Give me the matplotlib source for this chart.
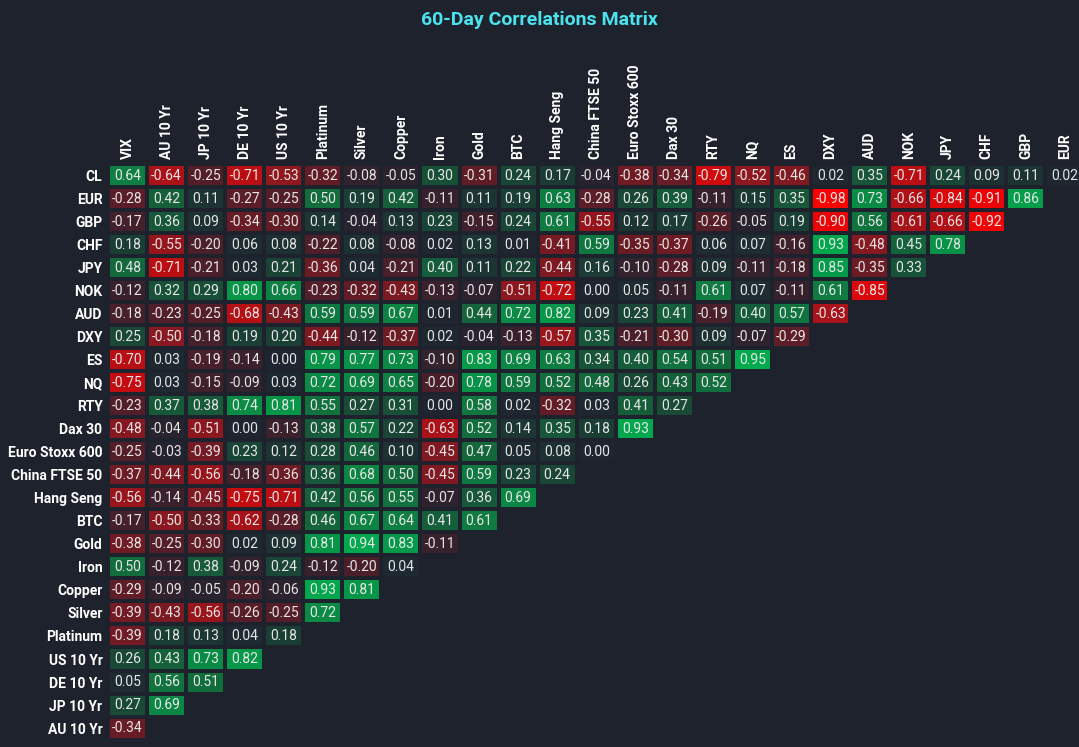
import numpy as np
import matplotlib
matplotlib.use("Agg")
import matplotlib.pyplot as plt
from matplotlib.colors import LinearSegmentedColormap

plt.rcParams['font.family'] = ['Roboto', 'DejaVu Sans']

cols = ["VIX", "AU 10 Yr", "JP 10 Yr", "DE 10 Yr", "US 10 Yr", "Platinum", "Silver", "Copper",
        "Iron", "Gold", "BTC", "Hang Seng", "China FTSE 50", "Euro Stoxx 600", "Dax 30", "RTY",
        "NQ", "ES", "DXY", "AUD", "NOK", "JPY", "CHF", "GBP", "EUR"]
rows = ["CL", "EUR", "GBP", "CHF", "JPY", "NOK", "AUD", "DXY", "ES", "NQ", "RTY", "Dax 30",
        "Euro Stoxx 600", "China FTSE 50", "Hang Seng", "BTC", "Gold", "Iron", "Copper", "Silver",
        "Platinum", "US 10 Yr", "DE 10 Yr", "JP 10 Yr", "AU 10 Yr"]

values = [
    [0.64, -0.64, -0.25, -0.71, -0.53, -0.32, -0.08, -0.05, 0.30, -0.31, 0.24, 0.17, -0.04, -0.38, -0.34, -0.79, -0.52, -0.46, 0.02, 0.35, -0.71, 0.24, 0.09, 0.11, 0.02],
    [-0.28, 0.42, 0.11, -0.27, -0.25, 0.50, 0.19, 0.42, -0.11, 0.11, 0.19, 0.63, -0.28, 0.26, 0.39, -0.11, 0.15, 0.35, -0.98, 0.73, -0.66, -0.84, -0.91, 0.86],
    [-0.17, 0.36, 0.09, -0.34, -0.30, 0.14, -0.04, 0.13, 0.23, -0.15, 0.24, 0.61, -0.55, 0.12, 0.17, -0.26, -0.05, 0.19, -0.90, 0.56, -0.61, -0.66, -0.92],
    [0.18, -0.55, -0.20, 0.06, 0.08, -0.22, 0.08, -0.08, 0.02, 0.13, 0.01, -0.41, 0.59, -0.35, -0.37, 0.06, 0.07, -0.16, 0.93, -0.48, 0.45, 0.78],
    [0.48, -0.71, -0.21, 0.03, 0.21, -0.36, 0.04, -0.21, 0.40, 0.11, 0.22, -0.44, 0.16, -0.10, -0.28, 0.09, -0.11, -0.18, 0.85, -0.35, 0.33],
    [-0.12, 0.32, 0.29, 0.80, 0.66, -0.23, -0.32, -0.43, -0.13, -0.07, -0.51, -0.72, 0.00, 0.05, -0.11, 0.61, 0.07, -0.11, 0.61, -0.85],
    [-0.18, -0.23, -0.25, -0.68, -0.43, 0.59, 0.59, 0.67, 0.01, 0.44, 0.72, 0.82, 0.09, 0.23, 0.41, -0.19, 0.40, 0.57, -0.63],
    [0.25, -0.50, -0.18, 0.19, 0.20, -0.44, -0.12, -0.37, 0.02, -0.04, -0.13, -0.57, 0.35, -0.21, -0.30, 0.09, -0.07, -0.29],
    [-0.70, 0.03, -0.19, -0.14, 0.00, 0.79, 0.77, 0.73, -0.10, 0.83, 0.69, 0.63, 0.34, 0.40, 0.54, 0.51, 0.95],
    [-0.75, 0.03, -0.15, -0.09, 0.03, 0.72, 0.69, 0.65, -0.20, 0.78, 0.59, 0.52, 0.48, 0.26, 0.43, 0.52],
    [-0.23, 0.37, 0.38, 0.74, 0.81, 0.55, 0.27, 0.31, 0.00, 0.58, 0.02, -0.32, 0.03, 0.41, 0.27],
    [-0.48, -0.04, -0.51, 0.00, -0.13, 0.38, 0.57, 0.22, -0.63, 0.52, 0.14, 0.35, 0.18, 0.93],
    [-0.25, -0.03, -0.39, 0.23, 0.12, 0.28, 0.46, 0.10, -0.45, 0.47, 0.05, 0.08, 0.00],
    [-0.37, -0.44, -0.56, -0.18, -0.36, 0.36, 0.68, 0.50, -0.45, 0.59, 0.23, 0.24],
    [-0.56, -0.14, -0.45, -0.75, -0.71, 0.42, 0.56, 0.55, -0.07, 0.36, 0.69],
    [-0.17, -0.50, -0.33, -0.62, -0.28, 0.46, 0.67, 0.64, 0.41, 0.61],
    [-0.38, -0.25, -0.30, 0.02, 0.09, 0.81, 0.94, 0.83, -0.11],
    [0.50, -0.12, 0.38, -0.09, 0.24, -0.12, -0.20, 0.04],
    [-0.29, -0.09, -0.05, -0.20, -0.06, 0.93, 0.81],
    [-0.39, -0.43, -0.56, -0.26, -0.25, 0.72],
    [-0.39, 0.18, 0.13, 0.04, 0.18],
    [0.26, 0.43, 0.73, 0.82],
    [0.05, 0.56, 0.51],
    [0.27, 0.69],
    [-0.34],
]

bg = "#1e222d"
n_r, n_c = len(rows), len(cols)
grid = np.full((n_r, n_c), np.nan)
for i, r in enumerate(values):
    grid[i, :len(r)] = r
data = np.ma.masked_invalid(grid)

cmap = LinearSegmentedColormap.from_list("rg", ["#ff0000", "#8a1820", "#1f2430", "#136b3c", "#00b050"])

fig = plt.figure(figsize=(10.79, 7.47), dpi=100, facecolor=bg)
ax = fig.add_axes([0.1001, 0.010, 0.9050, 0.770])
ax.set_facecolor(bg)
ax.pcolormesh(np.arange(n_c + 1), np.arange(n_r + 1), data, cmap=cmap, vmin=-1, vmax=1,
              edgecolors=bg, linewidth=1.5)
ax.set_xlim(0, n_c)
ax.set_ylim(n_r, 0)

for i in range(n_r):
    for j in range(n_c):
        if not np.isnan(grid[i, j]):
            ax.text(j + 0.5, i + 0.5, f"{grid[i, j]:.2f}", ha="center", va="center",
                    color="#e6e6e6", fontsize=10)

ax.xaxis.tick_top()
ax.set_xticks(np.arange(n_c) + 0.5)
ax.set_xticklabels(cols, rotation=90, color="white", fontsize=10, fontweight="bold")
ax.set_yticks(np.arange(n_r) + 0.5)
ax.set_yticklabels(rows, color="white", fontsize=10, fontweight="bold")
ax.tick_params(length=0, pad=4)
for s in ax.spines.values():
    s.set_visible(False)

fig.text(0.5, 0.973, "60-Day Correlations Matrix", ha="center", va="center",
         color="#4de3ee", fontsize=14, fontweight="bold")

fig.savefig("out.png", dpi=100, facecolor=bg)
